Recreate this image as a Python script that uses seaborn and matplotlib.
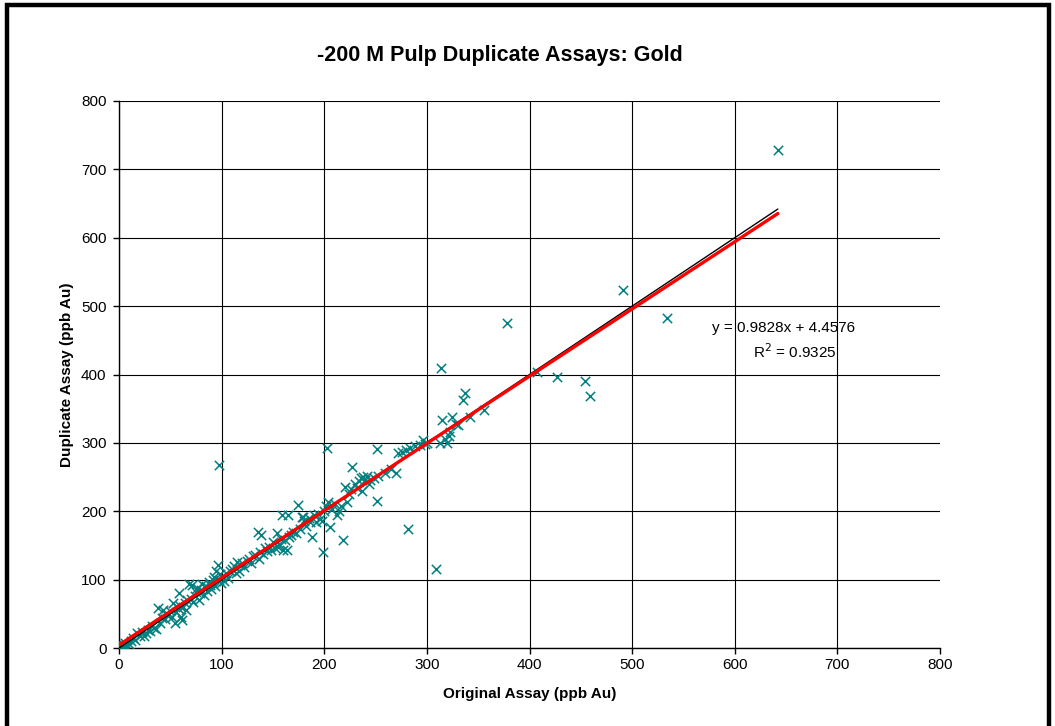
import numpy as np
import pandas as pd
import matplotlib
matplotlib.use("Agg")
import matplotlib.pyplot as plt
from matplotlib.patches import Rectangle
import seaborn as sns

# values (ppb Au)
original = [0, 1, 2, 3, 4, 5, 6, 8, 10, 12, 14, 16, 18, 20, 22, 24, 26, 28, 30, 32,
            34, 36, 38, 40, 42, 43, 45, 46, 48, 50, 52, 53, 55, 56, 57, 58, 59, 60, 61,
            62, 64, 65, 66, 68, 70, 71, 72, 74, 75, 76, 78, 79, 80, 81, 83, 85, 86, 88,
            89, 90, 92, 93, 94, 95, 96, 97, 97, 98, 99, 100,
            102, 104, 106, 108, 110, 112, 114, 115, 117, 118, 120, 122, 125, 127, 129,
            131, 133, 135, 136, 137, 138, 140, 142, 144, 146, 148, 150,
            152, 154, 155, 156, 158, 159, 160, 162, 164, 165, 166, 168, 170, 172, 174,
            176, 178, 179, 180, 182, 185, 186, 188, 190, 192, 194, 196, 198, 199, 200,
            202, 203, 204, 206, 208, 210, 212, 214, 216, 218, 220, 222, 224, 226, 227,
            230, 232, 234, 236, 237, 238, 240, 242, 244, 245, 248, 251, 251, 252,
            259, 265, 270, 272, 276, 280, 282, 284, 288, 293, 296, 298, 300, 309, 313,
            314, 315, 318, 320, 322, 323, 324, 328, 330, 335, 337, 342, 356,
            378, 407, 427, 454, 459, 491, 534, 642]
duplicate = [0, 3, 6, 1, 0, 4, 8, 2, 6, 10, 14, 12, 22, 18, 24, 17, 22, 27, 25, 32,
             30, 28, 58, 36, 44, 55, 42, 50, 48, 54, 45, 66, 36, 52, 58, 80, 62, 45, 41,
             60, 66, 55, 70, 93, 72, 92, 68, 76, 82, 88, 70, 80, 85, 94, 78, 90, 84, 96,
             92, 86, 99, 104, 90, 112, 121, 100, 267, 108, 95, 104,
             98, 110, 102, 112, 116, 120, 109, 126, 112, 122, 124, 118, 128, 130, 125,
             134, 136, 170, 130, 140, 165, 138, 146, 142, 148, 144, 155,
             147, 168, 148, 152, 160, 194, 143, 158, 143, 194, 162, 166, 170, 168, 209,
             174, 192, 192, 186, 178, 190, 184, 163, 194, 185, 196, 188, 186, 141, 200,
             208, 293, 213, 177, 204, 210, 194, 200, 208, 158, 236, 214, 225, 232, 265,
             240, 234, 244, 248, 230, 250, 246, 252, 240, 246, 248, 291, 215, 252,
             256, 262, 256, 285, 287, 290, 174, 292, 295, 297, 304, 298, 300, 116, 300,
             409, 333, 306, 300, 310, 316, 338, 328, 326, 362, 373, 338, 348,
             475, 404, 396, 390, 368, 523, 482, 728]

slope = 0.9828
intercept = 4.4576
r_squared = 0.9325

ticks = [0, 100, 200, 300, 400, 500, 600, 700, 800]

df = pd.DataFrame({"Original": original, "Duplicate": duplicate})

sns.set_style("ticks")
plt.rcParams["font.family"] = ["Liberation Sans", "DejaVu Sans"]
plt.rcParams["text.color"] = "black"
plt.rcParams["axes.labelcolor"] = "black"

fig = plt.figure(figsize=(10.55, 7.26), dpi=100)
ax = fig.add_axes([0.1128, 0.1074, 0.7782, 0.7535])

sns.scatterplot(data=df, x="Original", y="Duplicate", marker="x", s=45,
                color="#008080", linewidth=1.1, ax=ax, zorder=3)

xmax = df["Original"].max()
xs = np.array([0, xmax])
ax.plot(xs, xs, color="black", lw=1.0, zorder=4)
ax.plot(xs, slope * xs + intercept, color="#ff0000", lw=2.4, zorder=5)

ax.set_xlim(0, 800)
ax.set_ylim(0, 800)
ax.set_xticks(ticks)
ax.set_yticks(ticks)
ax.tick_params(direction="out", length=4, width=1, labelsize=11, colors="black")
ax.tick_params(axis="x", pad=3)
ax.tick_params(axis="y", pad=5)
ax.grid(True, color="black", lw=0.8)
ax.xaxis.get_gridlines()[-1].set_visible(False)
for s in ["top", "right"]:
    ax.spines[s].set_visible(False)
for s in ["left", "bottom"]:
    ax.spines[s].set_color("black")
    ax.spines[s].set_linewidth(1)

ax.set_xlabel("Original Assay (ppb Au)", fontsize=11, fontweight="bold", labelpad=11)
ax.set_ylabel("Duplicate Assay (ppb Au)", fontsize=11, fontweight="bold", labelpad=5)
fig.text(0.474, 0.924, "-200 M Pulp Duplicate Assays: Gold", ha="center", va="center",
         fontsize=15.5, fontweight="bold")

ax.text(648, 468, f"y = {slope}x + {intercept}", ha="center", va="center", fontsize=11)
ax.text(659, 433, f"R$^2$ = {r_squared}", ha="center", va="center", fontsize=11)

fig.patches.append(Rectangle((0.0062, -0.02), 0.9882, 1.0125, transform=fig.transFigure,
                             fill=False, edgecolor="black", lw=3.2))

fig.savefig("out.png", dpi=100)
